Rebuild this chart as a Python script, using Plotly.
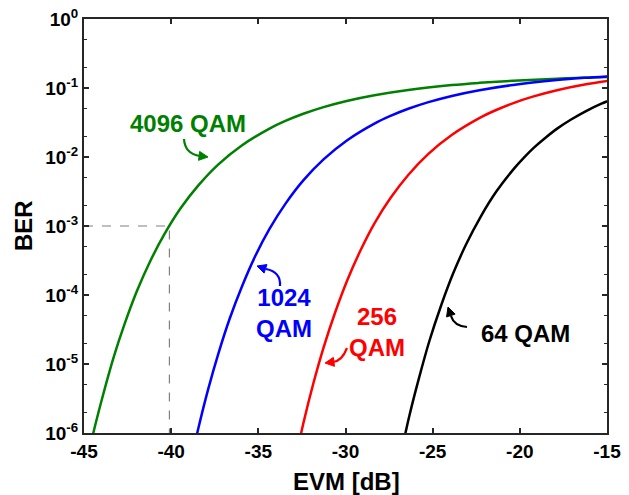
import plotly.graph_objects as go

# ---- data ----
evm_4096 = [-14.36, -17.88, -20.38, -22.32, -23.90, -26.40, -28.34, -29.93, -31.26, -32.42,
            -33.45, -34.36, -35.95, -37.29, -38.44, -39.47, -40.38, -41.21, -41.97, -42.66,
            -43.31, -43.90, -44.47, -44.99]
ber_4096 = [0.1456, 0.1365, 0.1275, 0.1187, 0.1102, 0.0938, 0.0787, 0.0650, 0.0529, 0.0423,
            0.0333, 0.0258, 0.0147, 0.00783, 0.00388, 0.00179, 7.67e-4, 3.06e-4, 1.13e-4,
            3.87e-5, 1.23e-5, 3.62e-6, 9.9e-7, 2.5e-7]

evm_1024 = [-14.36, -16.30, -17.88, -20.38, -22.32, -23.90, -25.24, -26.40, -27.42, -28.34,
            -29.92, -31.26, -32.42, -33.44, -34.36, -35.19, -35.94, -36.64, -37.28, -37.88,
            -38.44, -38.97]
ber_1024 = [0.1506, 0.1402, 0.1301, 0.1108, 0.0929, 0.0768, 0.0624, 0.0500, 0.0394, 0.0305,
            0.0174, 0.00925, 0.00458, 0.00211, 9.06e-4, 3.61e-4, 1.33e-4, 4.57e-5, 1.45e-5,
            4.28e-6, 1.17e-6, 2.95e-7]

evm_256 = [-14.35, -16.28, -17.87, -19.21, -20.37, -21.39, -22.30, -23.89, -25.23, -26.39,
           -27.41, -28.33, -29.15, -29.91, -30.60, -31.25, -31.85, -32.41, -32.93]
ber_256 = [0.1340, 0.1124, 0.0929, 0.0755, 0.0605, 0.0476, 0.0369, 0.0210, 0.0112, 0.00554,
           0.00256, 0.00110, 4.37e-4, 1.61e-4, 5.53e-5, 1.76e-5, 5.18e-6, 1.41e-6, 3.57e-7]

evm_64 = [-14.29, -15.32, -16.23, -17.06, -17.82, -18.51, -19.16, -19.75, -20.31, -21.34,
          -22.25, -23.08, -23.84, -24.53, -25.18, -25.77, -26.34, -26.86]
ber_64 = [0.0752, 0.0592, 0.0459, 0.0349, 0.0262, 0.0192, 0.0139, 0.00989, 0.00690, 0.00318,
          0.00136, 5.43e-4, 2.01e-4, 6.88e-5, 2.19e-5, 6.44e-6, 1.76e-6, 4.44e-7]

evm_ref = -40.1
ber_ref = 1e-3

x_ticks = [-45, -40, -35, -30, -25, -20, -15]
x_ticktext = ["-45", "-40", "-35", "-30", "-25", "-20", "-15"]
y_ticks = [1e-6, 1e-5, 1e-4, 1e-3, 1e-2, 1e-1, 1e0]
y_ticktext = ["10<sup>-6</sup>", "10<sup>-5</sup>", "10<sup>-4</sup>", "10<sup>-3</sup>",
              "10<sup>-2</sup>", "10<sup>-1</sup>", "10<sup>0</sup>"]

FONT = "Arial, Liberation Sans, sans-serif"
AXC = "#262626"
W, H = 629, 495
L, R, T, B = 84, 22, 19, 62
PW, PH = W - L - R, H - T - B

fig = go.Figure()

# reference dashed lines
fig.add_trace(go.Scatter(x=[x_ticks[0], evm_ref, evm_ref], y=[ber_ref, ber_ref, y_ticks[0]],
                         mode="lines", line=dict(color="#808080", width=1.2, dash="dash"),
                         hoverinfo="skip", showlegend=False))

series = [(evm_4096, ber_4096, "#008000"), (evm_1024, ber_1024, "#0000ff"),
          (evm_256, ber_256, "#ff0000"), (evm_64, ber_64, "#000000")]
for xs, ys, c in series:
    fig.add_trace(go.Scatter(x=xs, y=ys, mode="lines", line=dict(color=c, width=2.5, shape="spline"),
                             showlegend=False))


def px(xp, yp):
    return (xp - L) / PW, (H - B - yp) / PH


# labels
labels = [("4096 QAM", 188, 123, "#008000"), ("1024<br>QAM", 284, 313, "#0000ff"),
          ("256<br>QAM", 377, 332, "#ff0000"), ("64 QAM", 525, 333, "#000000")]
for t, xp, yp, c in labels:
    ax_, ay_ = px(xp, yp)
    fig.add_annotation(x=ax_, y=ay_, xref="paper", yref="paper", text=t, showarrow=False,
                       xanchor="center", yanchor="middle",
                       font=dict(family=FONT, size=24, color=c, weight="bold"))

# axis titles
tx, ty = px(346, 481)
fig.add_annotation(x=tx, y=ty, xref="paper", yref="paper", text="EVM [dB]", showarrow=False,
                   xanchor="center", yanchor="middle",
                   font=dict(family=FONT, size=24, color="#000000", weight="bold"))
tx, ty = px(23, 226)
fig.add_annotation(x=tx, y=ty, xref="paper", yref="paper", text="BER", showarrow=False,
                   xanchor="center", yanchor="middle", textangle=-90,
                   font=dict(family=FONT, size=24, color="#000000", weight="bold"))

# curved arrows: (start, control, end, tip)
arrows = [((184, 139), (185, 154), (200, 156), (208, 157), "#008000"),
          ((280, 286), (281, 272), (266, 269), (257, 266), "#0000ff"),
          ((347, 348), (342, 361), (333, 362), (325, 363), "#ff0000"),
          ((467, 327), (454, 326), (451, 316), (448, 307), "#000000")]
for s, cpt, e, tip, c in arrows:
    p0, p1, p2 = px(*s), px(*cpt), px(*e)
    fig.add_shape(type="path", xref="paper", yref="paper",
                  path=f"M {p0[0]},{p0[1]} Q {p1[0]},{p1[1]} {p2[0]},{p2[1]}",
                  line=dict(color=c, width=2.2))
    dx, dy = tip[0] - e[0], tip[1] - e[1]
    n = (dx * dx + dy * dy) ** 0.5
    ux, uy = dx / n, dy / n
    back = (tip[0] - 9 * ux, tip[1] - 9 * uy)
    a = (back[0] - 4.5 * uy, back[1] + 4.5 * ux)
    b = (back[0] + 4.5 * uy, back[1] - 4.5 * ux)
    q0, qa, qb = px(*tip), px(*a), px(*b)
    fig.add_shape(type="path", xref="paper", yref="paper",
                  path=f"M {q0[0]},{q0[1]} L {qa[0]},{qa[1]} L {qb[0]},{qb[1]} Z",
                  line=dict(color=c, width=1), fillcolor=c)

fig.update_layout(
    width=W, height=H, margin=dict(l=L, r=R, t=T, b=B, autoexpand=False),
    paper_bgcolor="white", plot_bgcolor="white",
    font=dict(family=FONT, size=18, color="#000000", weight="bold"),
    xaxis=dict(range=[-45, -15], tickvals=x_ticks, ticktext=x_ticktext, automargin=False,
               showgrid=False, zeroline=False, showline=True, linecolor=AXC, linewidth=2,
               mirror="ticks", ticks="inside", ticklen=5, tickwidth=1.5, tickcolor=AXC,
               tickfont=dict(size=19, weight="bold")),
    yaxis=dict(type="log", range=[-6, 0], tickvals=y_ticks, ticktext=y_ticktext, automargin=False,
               showgrid=False, zeroline=False, showline=True, linecolor=AXC, linewidth=2,
               mirror="ticks", ticks="inside", ticklen=5, tickwidth=1.5, tickcolor=AXC,
               minor=dict(ticks="inside", ticklen=3, tickwidth=1, tickcolor=AXC, showgrid=False),
               tickfont=dict(size=19, weight="bold")),
    yaxis2=dict(type="log", range=[-6, 0], overlaying="y", side="right", tickvals=y_ticks,
                showticklabels=False, automargin=False, showgrid=False, zeroline=False,
                ticks="inside", ticklen=5, tickwidth=1.5, tickcolor=AXC,
                minor=dict(ticks="inside", ticklen=3, tickwidth=1, tickcolor=AXC, showgrid=False)),
)
# invisible trace to activate the right-hand axis
fig.add_trace(go.Scatter(x=[x_ticks[0]], y=[y_ticks[0]], yaxis="y2", mode="markers",
                         marker=dict(opacity=0), hoverinfo="skip", showlegend=False))

fig.write_html("out.html", config={"displayModeBar": False},
               post_script="document.body.style.margin='0';document.body.style.overflow='hidden';")
